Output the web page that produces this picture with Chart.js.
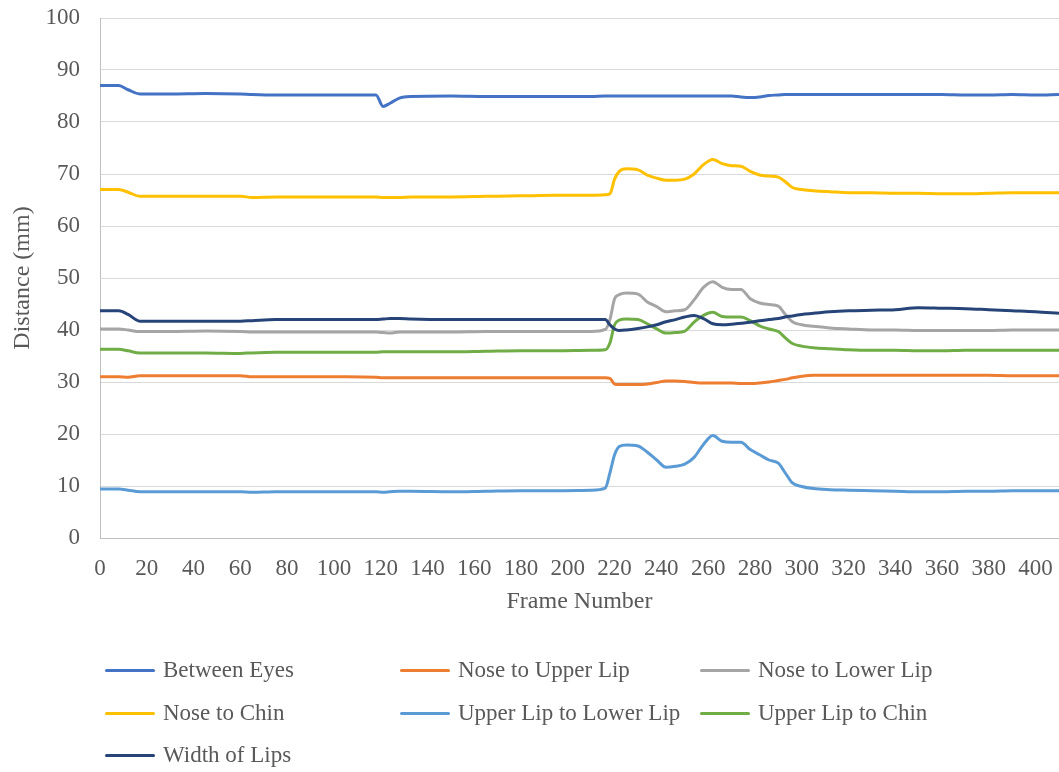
<!DOCTYPE html>
<html>
<head>
<meta charset="utf-8">
<script src="https://cdn.jsdelivr.net/npm/chart.js@4.4.1/dist/chart.umd.min.js"></script>
<style>
  body { margin: 0; background: #fff; }
  #wrap { position: relative; width: 1059px; height: 772px; }
  #legend { position: absolute; left: 0; top: 0; width: 1059px; height: 772px; pointer-events: none; }
  .item { position: absolute; height: 30px; display: flex; align-items: center;
          font-family: "Liberation Serif", "Times New Roman", serif; font-size: 23px; color: #595959; white-space: nowrap; }
  .swatch { display: inline-block; width: 50px; height: 3px; margin-right: 8px; border-radius: 2px; }
</style>
</head>
<body>
<div id="wrap">
  <canvas id="faceChart" width="1059" height="640"></canvas>
  <div id="legend"></div>
</div>
<script>
var frames = [0, 8, 12, 17, 30, 45, 60, 65, 75, 90, 105, 118, 121, 124, 128, 133, 150, 165, 180, 195,
  210, 216, 218, 220, 222, 225, 230, 234, 238, 242, 246, 250, 254, 258, 262, 266, 270, 274, 278, 282,
  286, 290, 293, 296, 300, 305, 312, 320, 330, 340, 350, 360, 370, 380, 390, 400, 410];

var seriesNames = ['Between Eyes', 'Nose to Upper Lip', 'Nose to Lower Lip', 'Nose to Chin',
  'Upper Lip to Lower Lip', 'Upper Lip to Chin', 'Width of Lips'];

var betweenEyes = [87.0, 87.0, 86.2, 85.4, 85.4, 85.5, 85.4, 85.3, 85.2, 85.2, 85.2, 85.2, 83.0, 83.6, 84.6, 84.9, 85.0, 84.9, 84.9, 84.9,
  84.9, 85.0, 85.0, 85.0, 85.0, 85.0, 85.0, 85.0, 85.0, 85.0, 85.0, 85.0, 85.0, 85.0, 85.0, 85.0, 85.0, 84.8, 84.7, 84.8,
  85.1, 85.2, 85.3, 85.3, 85.3, 85.3, 85.3, 85.3, 85.3, 85.3, 85.3, 85.3, 85.2, 85.2, 85.3, 85.2, 85.3];

var noseUpperLip = [31.0, 31.0, 30.9, 31.2, 31.2, 31.2, 31.2, 31.0, 31.0, 31.0, 31.0, 30.9, 30.8, 30.8, 30.8, 30.8, 30.8, 30.8, 30.8, 30.8,
  30.8, 30.8, 30.7, 29.6, 29.5, 29.5, 29.5, 29.6, 29.9, 30.2, 30.2, 30.1, 29.9, 29.8, 29.8, 29.8, 29.8, 29.7, 29.7, 29.8,
  30.0, 30.3, 30.5, 30.8, 31.1, 31.3, 31.3, 31.3, 31.3, 31.3, 31.3, 31.3, 31.3, 31.3, 31.2, 31.2, 31.2];

var noseLowerLip = [40.2, 40.2, 40.0, 39.7, 39.7, 39.8, 39.7, 39.6, 39.6, 39.6, 39.6, 39.6, 39.5, 39.4, 39.6, 39.6, 39.6, 39.7, 39.7, 39.7,
  39.7, 40.1, 42.0, 46.0, 46.8, 47.1, 46.9, 45.4, 44.5, 43.5, 43.7, 43.9, 45.8, 48.2, 49.3, 48.2, 47.8, 47.8, 46.0, 45.2,
  44.9, 44.6, 43.0, 41.6, 41.0, 40.7, 40.4, 40.2, 40.0, 40.0, 39.9, 39.9, 39.9, 39.9, 40.0, 40.0, 40.0];

var noseChin = [67.0, 67.0, 66.5, 65.7, 65.7, 65.7, 65.7, 65.5, 65.6, 65.6, 65.6, 65.6, 65.5, 65.5, 65.5, 65.6, 65.6, 65.7, 65.8, 65.9,
  65.9, 66.0, 66.2, 69.0, 70.5, 71.0, 70.8, 69.8, 69.2, 68.8, 68.8, 69.0, 70.0, 71.8, 72.8, 72.0, 71.6, 71.5, 70.5, 69.8,
  69.6, 69.4, 68.5, 67.4, 67.0, 66.8, 66.6, 66.4, 66.4, 66.3, 66.3, 66.2, 66.2, 66.3, 66.4, 66.4, 66.4];

var upperLowerLip = [9.4, 9.4, 9.2, 8.9, 8.9, 8.9, 8.9, 8.8, 8.9, 8.9, 8.9, 8.9, 8.8, 8.9, 9.0, 9.0, 8.9, 9.0, 9.1, 9.1,
  9.2, 9.6, 12.5, 16.0, 17.6, 17.9, 17.7, 16.5, 15.0, 13.6, 13.8, 14.2, 15.5, 18.0, 19.7, 18.6, 18.4, 18.4, 17.0, 16.0,
  15.0, 14.4, 12.5, 10.6, 9.9, 9.5, 9.3, 9.2, 9.1, 9.0, 8.9, 8.9, 9.0, 9.0, 9.1, 9.1, 9.1];

var upperLipChin = [36.3, 36.3, 36.0, 35.6, 35.6, 35.6, 35.5, 35.6, 35.7, 35.7, 35.7, 35.7, 35.8, 35.8, 35.8, 35.8, 35.8, 35.9, 36.0, 36.0,
  36.1, 36.2, 37.5, 41.0, 41.9, 42.1, 42.0, 41.2, 40.2, 39.4, 39.5, 39.8, 41.5, 42.8, 43.4, 42.6, 42.5, 42.5, 41.8, 40.8,
  40.2, 39.7, 38.5, 37.4, 36.9, 36.6, 36.4, 36.2, 36.1, 36.1, 36.0, 36.0, 36.1, 36.1, 36.1, 36.1, 36.1];

var widthLips = [43.7, 43.7, 43.0, 41.7, 41.7, 41.7, 41.7, 41.8, 42.0, 42.0, 42.0, 42.0, 42.1, 42.2, 42.2, 42.1, 42.0, 42.0, 42.0, 42.0,
  42.0, 42.0, 41.0, 40.2, 39.9, 40.0, 40.3, 40.6, 41.0, 41.6, 42.0, 42.5, 42.8, 42.2, 41.2, 41.0, 41.1, 41.3, 41.5, 41.8,
  42.0, 42.2, 42.5, 42.7, 43.0, 43.2, 43.5, 43.7, 43.8, 43.9, 44.3, 44.2, 44.1, 43.9, 43.7, 43.5, 43.2];

var seriesValues = [betweenEyes, noseUpperLip, noseLowerLip, noseChin, upperLowerLip, upperLipChin, widthLips];
var seriesColors = ['#4472C4', '#ED7D31', '#A5A5A5', '#FFC000', '#5B9BD5', '#70AD47', '#264478'];

var serif = '"Liberation Serif", "Times New Roman", serif';
var textColor = '#595959';

var datasets = seriesNames.map(function (name, i) {
  return {
    label: name,
    data: frames.map(function (f, j) { return { x: f, y: seriesValues[i][j] }; }),
    borderColor: seriesColors[i],
    backgroundColor: seriesColors[i],
    borderWidth: 3,
    pointRadius: 0,
    cubicInterpolationMode: 'monotone',
    order: seriesNames.length - i // later series drawn on top, like Excel
  };
});

var ctx = document.getElementById('faceChart').getContext('2d');
var chart = new Chart(ctx, {
  type: 'line',
  data: { datasets: datasets },
  options: {
    responsive: false,
    animation: false,
    layout: { padding: { top: 18, right: 0, left: 0, bottom: 0 } },
    plugins: {
      legend: { display: false },
      tooltip: { enabled: false }
    },
    scales: {
      x: {
        type: 'linear',
        min: 0,
        max: 410,
        afterFit: function (scale) {
          scale.height = 102;
          scale.paddingLeft = 0;
          scale.paddingRight = 0;
        },
        grid: { display: false, drawTicks: false },
        border: { color: '#BFBFBF', width: 1 },
        ticks: {
          stepSize: 20,
          includeBounds: false,
          autoSkip: false,
          maxRotation: 0,
          padding: 17,
          color: textColor,
          font: { family: serif, size: 23 }
        },
        title: {
          display: true,
          text: 'Frame Number',
          color: textColor,
          font: { family: serif, size: 24 },
          padding: { top: 0, bottom: 24 }
        }
      },
      y: {
        min: 0,
        max: 100,
        afterFit: function (scale) {
          scale.width = 100;
          scale.paddingTop = 0;
          scale.paddingBottom = 0;
        },
        grid: { color: '#D9D9D9', lineWidth: 1, drawTicks: false },
        border: { color: '#BFBFBF', width: 1 },
        ticks: {
          stepSize: 10,
          padding: 20,
          color: textColor,
          font: { family: serif, size: 23 }
        },
        title: {
          display: true,
          text: 'Distance (mm)',
          color: textColor,
          font: { family: serif, size: 24 },
          padding: { top: 8, bottom: 0 }
        }
      }
    }
  }
});

// legend laid out in three columns like the original
var legendCols = [105, 400, 700];
var legendRows = [670, 713, 755];
var legendEl = document.getElementById('legend');
seriesNames.forEach(function (name, i) {
  var item = document.createElement('div');
  item.className = 'item';
  item.style.left = legendCols[i % 3] + 'px';
  item.style.top = (legendRows[Math.floor(i / 3)] - 15) + 'px';
  var sw = document.createElement('span');
  sw.className = 'swatch';
  sw.style.background = seriesColors[i];
  item.appendChild(sw);
  item.appendChild(document.createTextNode(name));
  legendEl.appendChild(item);
});
</script>
</body>
</html>
